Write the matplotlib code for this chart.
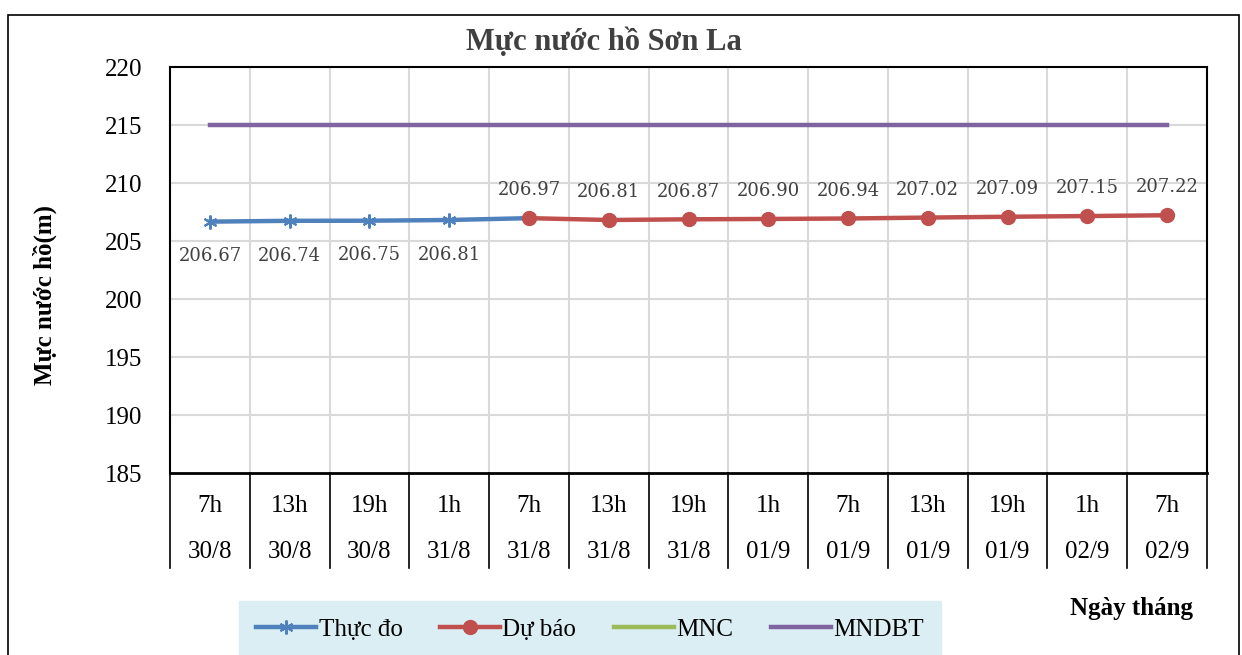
import matplotlib.pyplot as plt
from matplotlib.patches import Rectangle
from matplotlib.transforms import blended_transform_factory

# Data
hours = ['7h', '13h', '19h', '1h', '7h', '13h', '19h', '1h', '7h', '13h', '19h', '1h', '7h']
dates = ['30/8', '30/8', '30/8', '31/8', '31/8', '31/8', '31/8', '01/9', '01/9', '01/9', '01/9', '02/9', '02/9']
thuc_do = [206.67, 206.74, 206.75, 206.81, 206.97]
du_bao = [206.97, 206.81, 206.87, 206.90, 206.94, 207.02, 207.09, 207.15, 207.22]
mnc = [175] * 13
mndbt = [215] * 13

W, H = 1242, 655
fig = plt.figure(figsize=(W / 100, H / 100), dpi=100)
ax = fig.add_axes([170 / W, 1 - 473 / H, (1207 - 170) / W, (473 - 67) / H])

serif = ['Liberation Serif', 'DejaVu Serif']
x_all = list(range(len(hours)))
x_td = x_all[:len(thuc_do)]
x_db = x_all[len(thuc_do) - 1:]

ax.plot(x_all, mnc, color='#9BBB59', lw=3.2, label='MNC', zorder=2)
ax.plot(x_all, mndbt, color='#8064A2', lw=3.2, label='MNDBT', zorder=2)
ax.plot(x_td, thuc_do, color='#4F81BD', lw=3.2, marker=(6, 2, 0), ms=10, mew=1.5,
        label='Thực đo', zorder=3)
ax.plot(x_db, du_bao, color='#C0504D', lw=3.2, marker='o', ms=10,
        label='Dự báo', zorder=4)

# data labels
for i, v in zip(x_td[:-1], thuc_do[:-1]):
    ax.annotate(f'{v:.2f}', (i, v), xytext=(0, -25), textcoords='offset points',
                ha='center', va='center', fontsize=13, family='DejaVu Serif', color='#404040')
for i, v in zip(x_db, du_bao):
    ax.annotate(f'{v:.2f}', (i, v), xytext=(0, 20), textcoords='offset points',
                ha='center', va='center', fontsize=13, family='DejaVu Serif', color='#404040')

ax.set_xlim(-0.5, len(hours) - 0.5)
ax.set_ylim(185, 220)
ax.set_yticks(range(185, 221, 5))
ax.set_yticklabels([str(t) for t in range(185, 221, 5)], family=serif, fontsize=18)
ax.tick_params(axis='y', length=0, pad=20)
ax.set_xticks([])

for y in range(190, 220, 5):
    ax.axhline(y, color='#D9D9D9', lw=1.5, zorder=1)
for i in range(1, len(hours)):
    ax.axvline(i - 0.5, color='#D9D9D9', lw=1.5, zorder=1)

for s in ax.spines.values():
    s.set_color('black')
    s.set_linewidth(1.5)
ax.spines['bottom'].set_linewidth(2)

# category table under the axis
trans = blended_transform_factory(ax.transData, ax.transAxes)
ph = 473 - 67
for i in range(len(hours) + 1):
    ax.plot([i - 0.5, i - 0.5], [0, -(568 - 473) / ph], transform=trans,
            color='black', lw=1.2, clip_on=False)
for i, (h, d) in enumerate(zip(hours, dates)):
    ax.text(i, -(506 - 473) / ph, h, transform=trans, ha='center', va='center',
            family=serif, fontsize=18)
    ax.text(i, -(552 - 473) / ph, d, transform=trans, ha='center', va='center',
            family=serif, fontsize=18)

fig.text(604 / W, 1 - 42 / H, 'Mực nước hồ Sơn La', ha='center', va='center',
         family=serif, fontsize=22, fontweight='bold', color='#404040')
fig.text(45 / W, 1 - 295 / H, 'Mực nước hồ(m)', ha='center', va='center', rotation=90,
         family=serif, fontsize=18, fontweight='bold')
fig.text(1132 / W, 1 - 608 / H, 'Ngày tháng', ha='center', va='center',
         family=serif, fontsize=18, fontweight='bold')

handles, labels = ax.get_legend_handles_labels()
order = [2, 3, 0, 1]
leg = fig.legend([handles[k] for k in order], [labels[k] for k in order],
                 loc='upper center', bbox_to_anchor=(590 / W, 1 - 601 / H), ncol=4,
                 frameon=True, fancybox=False, facecolor='#DAEEF3', edgecolor='#DAEEF3',
                 prop={'family': serif, 'size': 18}, handlelength=2.4, handletextpad=0.1,
                 columnspacing=1.5, borderpad=0.7, borderaxespad=0)
leg.get_frame().set_alpha(1)

fig.patches.append(Rectangle((8 / W, -0.1), (1239 - 8) / W, 1.1 - 15 / H,
                             transform=fig.transFigure, fill=False, edgecolor='black', lw=1.2))

fig.savefig('out.png', dpi=100)
